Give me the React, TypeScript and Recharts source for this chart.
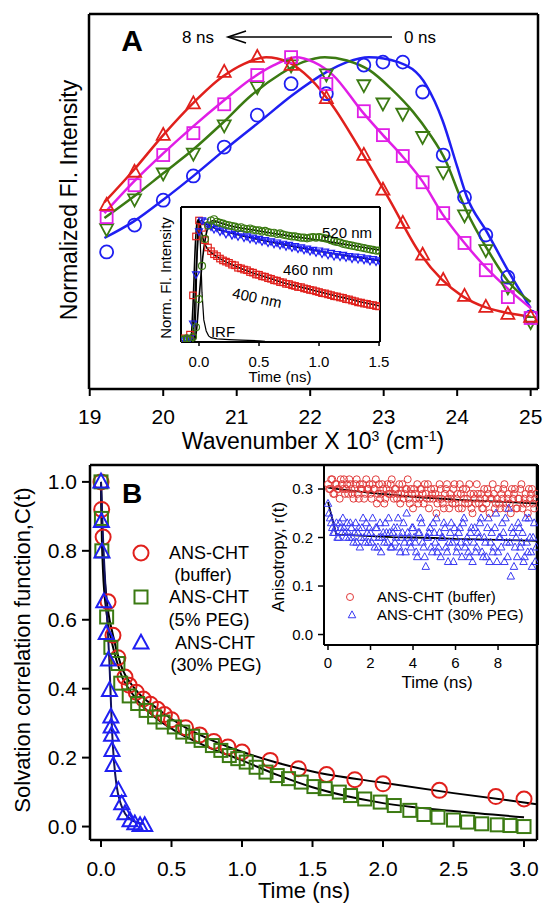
import React from 'react'
import { ComposedChart, Line, Scatter, XAxis, YAxis, ReferenceLine } from 'recharts'

const FONT = '"Liberation Sans", Arial, Helvetica, sans-serif'

// ---- Panel A: time-resolved emission spectra ----
const WAVENUMBERS = [19.23, 19.61, 20.0, 20.41, 20.83, 21.28, 21.74, 22.22, 22.73, 22.99, 23.26, 23.53, 23.81, 24.1, 24.39, 24.69, 25.0]
const SPEC_0NS = [0.413, 0.494, 0.569, 0.642, 0.729, 0.825, 0.92, 0.89, 0.976, 0.985, 0.985, 0.895, 0.705, 0.578, 0.464, 0.337, 0.217]
const SPEC_MID1 = [0.482, 0.572, 0.65, 0.71, 0.795, 0.91, 0.976, 0.949, 0.916, 0.861, 0.83, 0.76, 0.654, 0.524, 0.419, 0.307, 0.202]
const SPEC_MID2 = [0.518, 0.614, 0.705, 0.771, 0.858, 0.946, 1.0, 0.919, 0.837, 0.765, 0.702, 0.623, 0.53, 0.44, 0.358, 0.277, 0.214]
const SPEC_8NS = [0.554, 0.654, 0.765, 0.86, 0.955, 1.0, 0.976, 0.876, 0.705, 0.6, 0.5, 0.404, 0.328, 0.28, 0.247, 0.226, 0.217]

const FIT_0NS = [[19.2, 0.455], [19.6, 0.505], [20.0, 0.57], [20.4, 0.64], [20.86, 0.725], [21.31, 0.805], [21.76, 0.886], [22.22, 0.955], [22.5, 0.985], [22.8, 1.0], [23.2, 0.985], [23.58, 0.915], [23.8, 0.81], [24.0, 0.67], [24.13, 0.58], [24.4, 0.475], [24.71, 0.35], [25.0, 0.244]]
const FIT_MID1 = [[19.2, 0.515], [19.6, 0.58], [20.0, 0.65], [20.4, 0.72], [20.8, 0.8], [21.2, 0.885], [21.6, 0.95], [21.9, 0.985], [22.2, 1.0], [22.5, 0.99], [22.81, 0.96], [23.1, 0.905], [23.4, 0.835], [23.62, 0.77], [23.85, 0.685], [24.03, 0.585], [24.13, 0.535], [24.4, 0.425], [24.71, 0.32], [25.0, 0.262]]
const FIT_MID2 = [[19.2, 0.53], [19.6, 0.625], [20.0, 0.71], [20.4, 0.79], [20.8, 0.865], [21.2, 0.935], [21.5, 0.975], [21.8, 1.0], [22.05, 0.985], [22.31, 0.946], [22.71, 0.835], [22.99, 0.765], [23.26, 0.7], [23.53, 0.625], [23.8, 0.527], [24.1, 0.44], [24.4, 0.364], [24.71, 0.298], [25.0, 0.244]]
const FIT_8NS = [[19.2, 0.563], [19.6, 0.66], [20.0, 0.765], [20.4, 0.86], [20.8, 0.94], [21.1, 0.98], [21.4, 1.0], [21.7, 0.985], [22.0, 0.935], [22.3, 0.855], [22.67, 0.725], [23.08, 0.57], [23.49, 0.41], [23.79, 0.33], [24.07, 0.28], [24.4, 0.245], [24.71, 0.228], [25.0, 0.218]]

const WN_TICKS = [19, 20, 21, 22, 23, 24, 25]

// ---- Inset A: fluorescence decays ----
const DECAY_T = [-0.15, -0.125, -0.1, -0.075, -0.05, -0.025, 0, 0.025, 0.05, 0.075, 0.1, 0.125, 0.15, 0.175, 0.2, 0.225, 0.25, 0.275, 0.3, 0.325, 0.35, 0.375, 0.4, 0.425, 0.45, 0.475, 0.5, 0.525, 0.55, 0.575, 0.6, 0.625, 0.65, 0.675, 0.7, 0.725, 0.75, 0.775, 0.8, 0.825, 0.85, 0.875, 0.9, 0.925, 0.95, 0.975, 1.0, 1.025, 1.05, 1.075, 1.1, 1.125, 1.15, 1.175, 1.2, 1.225, 1.25, 1.275, 1.3, 1.325, 1.35, 1.375, 1.4, 1.425, 1.45, 1.475, 1.5]
const DECAY_400 = [0.02, 0.03, 0.02, 0.06, 0.38, 0.86,
  0.99, 0.93, 0.83, 0.77, 0.74, 0.715, 0.7, 0.68, 0.665, 0.655,
  0.645, 0.63, 0.625, 0.605, 0.6, 0.59, 0.585, 0.57, 0.565, 0.55,
  0.548, 0.535, 0.532, 0.52, 0.515, 0.503, 0.5, 0.488, 0.486, 0.474,
  0.472, 0.462, 0.457, 0.448, 0.447, 0.437, 0.432, 0.424, 0.421, 0.413,
  0.407, 0.398, 0.396, 0.388, 0.382, 0.373, 0.371, 0.363, 0.36, 0.349,
  0.347, 0.338, 0.332, 0.323, 0.321, 0.313, 0.311, 0.303, 0.301, 0.293,
  0.29]
const DECAY_460 = [0.01, 0.02, 0.01, 0.03, 0.15, 0.55,
  0.9, 0.99, 0.98, 0.95, 0.94, 0.92, 0.93, 0.9, 0.91, 0.88,
  0.9, 0.87, 0.88, 0.86, 0.88, 0.85, 0.86, 0.84, 0.85, 0.83,
  0.84, 0.82, 0.83, 0.81, 0.82, 0.8, 0.81, 0.79, 0.8, 0.78,
  0.79, 0.77, 0.78, 0.76, 0.77, 0.75, 0.76, 0.74, 0.75, 0.73,
  0.745, 0.72, 0.735, 0.71, 0.725, 0.7, 0.715, 0.695, 0.71, 0.69,
  0.7, 0.68, 0.695, 0.675, 0.69, 0.67, 0.68, 0.66, 0.675, 0.655,
  0.665]
const DECAY_520 = [0.02, 0.02, 0.03, 0.02, 0.04, 0.12,
  0.35, 0.62, 0.84, 0.95, 0.99, 1.0, 0.98, 0.97, 0.965, 0.955,
  0.95, 0.945, 0.94, 0.93, 0.935, 0.925, 0.92, 0.925, 0.915, 0.91,
  0.91, 0.9, 0.905, 0.895, 0.89, 0.89, 0.88, 0.885, 0.875, 0.87,
  0.865, 0.86, 0.86, 0.855, 0.85, 0.85, 0.845, 0.85, 0.855, 0.85,
  0.855, 0.85, 0.845, 0.84, 0.83, 0.82, 0.815, 0.81, 0.8, 0.795,
  0.79, 0.785, 0.78, 0.775, 0.77, 0.765, 0.76, 0.755, 0.75, 0.745,
  0.745]
const IRF = [[-0.15, 0.005], [-0.05, 0.005], [-0.035, 0.05], [-0.025, 0.3], [-0.015, 0.8], [-0.005, 1.0], [0.005, 0.95], [0.015, 0.7], [0.025, 0.4], [0.04, 0.18], [0.06, 0.09], [0.08, 0.05], [0.1, 0.035], [0.15, 0.025], [0.25, 0.02], [0.35, 0.015], [0.5, 0.01], [0.55, 0.005]]
const DECAY_FIT_400 = [[-0.15, 0.0], [-0.07, 0.01], [-0.05, 0.3], [-0.03, 0.8], [-0.015, 0.98], [0, 1.0], [0.02, 0.9], [0.04, 0.82], [0.07, 0.76], [0.1, 0.73], [0.15, 0.695], [0.2, 0.665], [0.3, 0.62], [0.4, 0.58], [0.5, 0.545], [0.6, 0.515], [0.75, 0.47], [0.9, 0.435], [1.0, 0.41], [1.1, 0.385], [1.25, 0.35], [1.4, 0.315], [1.5, 0.295]]
const DECAY_FIT_460 = [[-0.15, 0.0], [-0.06, 0.01], [-0.04, 0.2], [-0.02, 0.65], [0, 0.92], [0.02, 0.99], [0.04, 0.975], [0.08, 0.95], [0.15, 0.92], [0.3, 0.88], [0.5, 0.835], [0.75, 0.785], [1.0, 0.74], [1.25, 0.7], [1.5, 0.665]]
const DECAY_FIT_520 = [[-0.15, 0.0], [-0.04, 0.01], [-0.02, 0.1], [0.0, 0.35], [0.03, 0.68], [0.06, 0.88], [0.09, 0.97], [0.12, 0.99], [0.15, 0.98], [0.25, 0.95], [0.5, 0.905], [0.75, 0.865], [1.0, 0.83], [1.25, 0.79], [1.5, 0.75]]

// ---- Panel B: solvation correlation function ----
const CT_BUFFER = [[0, 1.0], [0.005, 0.92], [0.015, 0.84], [0.05, 0.652], [0.085, 0.555], [0.12, 0.49], [0.17, 0.434], [0.2, 0.41], [0.25, 0.39], [0.3, 0.37], [0.35, 0.355], [0.4, 0.34], [0.45, 0.325], [0.5, 0.31], [0.6, 0.287], [0.7, 0.266], [0.8, 0.247], [0.9, 0.231], [1.0, 0.216], [1.2, 0.192], [1.4, 0.168], [1.6, 0.151], [1.8, 0.136], [2.0, 0.124], [2.4, 0.105], [2.8, 0.087], [3.0, 0.08]]
const CT_PEG5 = [[0, 1.0], [0.003, 0.894], [0.006, 0.8], [0.04, 0.608], [0.07, 0.52], [0.12, 0.473], [0.14, 0.416], [0.2, 0.379], [0.26, 0.357], [0.32, 0.337], [0.38, 0.318], [0.44, 0.303], [0.52, 0.289], [0.58, 0.274], [0.65, 0.262], [0.71, 0.25], [0.79, 0.235], [0.85, 0.221], [0.91, 0.206], [0.97, 0.197], [1.03, 0.187], [1.1, 0.172], [1.17, 0.158], [1.25, 0.148], [1.33, 0.139], [1.42, 0.129], [1.51, 0.116], [1.59, 0.11], [1.69, 0.1], [1.77, 0.09], [1.87, 0.08], [1.98, 0.071], [2.08, 0.061], [2.19, 0.047], [2.29, 0.035], [2.39, 0.027], [2.5, 0.019], [2.6, 0.013], [2.7, 0.008], [2.81, 0.005], [2.9, 0.003], [3.0, 0.0]]
const CT_PEG30 = [[0, 1.0], [0.003, 0.885], [0.007, 0.797], [0.02, 0.652], [0.037, 0.56], [0.053, 0.483], [0.06, 0.395], [0.07, 0.318], [0.072, 0.289], [0.075, 0.265], [0.078, 0.221], [0.087, 0.177], [0.123, 0.105], [0.147, 0.066], [0.17, 0.037], [0.206, 0.017], [0.24, 0.008], [0.277, 0.003], [0.31, 0.003]]
const CT_FIT_BUFFER = [[0, 1.0], [0.005, 0.9], [0.015, 0.79], [0.04, 0.66], [0.085, 0.555], [0.14, 0.47], [0.24, 0.4], [0.4, 0.342], [0.6, 0.287], [0.8, 0.248], [1.0, 0.217], [1.25, 0.185], [1.5, 0.16], [2.0, 0.127], [2.5, 0.097], [3.09, 0.065]]
const CT_FIT_PEG5 = [[0, 1.0], [0.005, 0.86], [0.014, 0.744], [0.04, 0.618], [0.085, 0.521], [0.14, 0.444], [0.24, 0.376], [0.38, 0.318], [0.52, 0.279], [0.75, 0.232], [1.0, 0.192], [1.25, 0.15], [1.5, 0.114], [2.0, 0.068], [2.5, 0.045], [3.0, 0.027]]
const CT_FIT_PEG30 = [[0, 1.0], [0.014, 0.84], [0.038, 0.647], [0.062, 0.453], [0.078, 0.28], [0.09, 0.2], [0.11, 0.12], [0.14, 0.066], [0.17, 0.038], [0.22, 0.018], [0.3, 0.008]]

// ---- Inset B: anisotropy decays, 0.05 ns channels (even / odd channels) ----
const ANISO_DT = 0.1
const ANISO_BUFFER = [
  0.31, 0.3, 0.32, 0.29, 0.31, 0.3, 0.32, 0.3, 0.29, 0.31,
  0.32, 0.3, 0.28, 0.31, 0.29, 0.31, 0.3, 0.28, 0.32, 0.3,
  0.29, 0.31, 0.3, 0.27, 0.31, 0.29, 0.3, 0.28, 0.31, 0.29,
  0.32, 0.28, 0.3, 0.29, 0.27, 0.31, 0.29, 0.3, 0.28, 0.3,
  0.26, 0.29, 0.31, 0.28, 0.3, 0.27, 0.29, 0.31, 0.28, 0.29,
  0.3, 0.25, 0.28, 0.3, 0.27, 0.29, 0.31, 0.26, 0.28, 0.3,
  0.27, 0.29, 0.31, 0.26, 0.28, 0.3, 0.27, 0.29, 0.25, 0.28,
  0.31, 0.27, 0.29, 0.26, 0.28, 0.3, 0.25, 0.28, 0.29, 0.27,
  0.3, 0.26, 0.28, 0.31, 0.27, 0.29, 0.25, 0.28, 0.3, 0.26,
  0.28, 0.31, 0.27, 0.29, 0.25, 0.28, 0.3, 0.26, 0.29]
const ANISO_BUFFER_ODD = [
  0.3, 0.32, 0.29, 0.31, 0.3, 0.28, 0.31, 0.32, 0.3, 0.29,
  0.31, 0.29, 0.3, 0.32, 0.28, 0.3, 0.31, 0.29, 0.3, 0.31,
  0.28, 0.3, 0.32, 0.29, 0.28, 0.31, 0.27, 0.3, 0.29, 0.31,
  0.29, 0.3, 0.28, 0.31, 0.29, 0.28, 0.3, 0.32, 0.27, 0.29,
  0.3, 0.28, 0.27, 0.3, 0.29, 0.31, 0.28, 0.26, 0.3, 0.28,
  0.29, 0.27, 0.31, 0.28, 0.26, 0.3, 0.28, 0.29, 0.27, 0.31,
  0.28, 0.26, 0.29, 0.3, 0.27, 0.28, 0.31, 0.26, 0.29, 0.27,
  0.29, 0.28, 0.26, 0.3, 0.27, 0.29, 0.28, 0.31, 0.26, 0.28,
  0.27, 0.29, 0.3, 0.26, 0.28, 0.27, 0.3, 0.29, 0.26, 0.28,
  0.3, 0.26, 0.28, 0.27, 0.3, 0.29, 0.27, 0.28]
const ANISO_PEG30 = [
  0.27, 0.24, 0.22, 0.21, 0.23, 0.2, 0.22, 0.24, 0.21, 0.23,
  0.2, 0.22, 0.19, 0.23, 0.21, 0.18, 0.22, 0.2, 0.23, 0.19,
  0.21, 0.24, 0.18, 0.22, 0.2, 0.17, 0.21, 0.23, 0.19, 0.21,
  0.18, 0.22, 0.2, 0.24, 0.17, 0.21, 0.19, 0.25, 0.2, 0.18,
  0.22, 0.19, 0.16, 0.21, 0.23, 0.18, 0.14, 0.2, 0.22, 0.17,
  0.21, 0.24, 0.18, 0.16, 0.2, 0.22, 0.17, 0.19, 0.23, 0.15,
  0.2, 0.18, 0.22, 0.16, 0.24, 0.19, 0.17, 0.21, 0.15, 0.22,
  0.18, 0.2, 0.24, 0.16, 0.19, 0.22, 0.15, 0.21, 0.18, 0.25,
  0.17, 0.2, 0.23, 0.15, 0.19, 0.26, 0.12, 0.21, 0.18, 0.16,
  0.22, 0.19, 0.15, 0.24, 0.17, 0.2, 0.14, 0.23, 0.18]
const ANISO_PEG30_ODD = [
  0.25, 0.23, 0.21, 0.22, 0.2, 0.23, 0.21, 0.22, 0.2, 0.21,
  0.23, 0.2, 0.21, 0.19, 0.22, 0.2, 0.24, 0.19, 0.21, 0.22,
  0.19, 0.2, 0.22, 0.18, 0.23, 0.2, 0.19, 0.21, 0.24, 0.18,
  0.21, 0.19, 0.22, 0.18, 0.2, 0.23, 0.17, 0.21, 0.19, 0.22,
  0.2, 0.17, 0.21, 0.24, 0.19, 0.16, 0.2, 0.21, 0.18, 0.23,
  0.19, 0.17, 0.21, 0.2, 0.23, 0.18, 0.15, 0.21, 0.19, 0.22,
  0.17, 0.21, 0.19, 0.23, 0.18, 0.2, 0.16, 0.22, 0.19, 0.17,
  0.21, 0.23, 0.17, 0.2, 0.16, 0.24, 0.19, 0.17, 0.22, 0.15,
  0.2, 0.18, 0.21, 0.24, 0.16, 0.19, 0.22, 0.14, 0.2, 0.23,
  0.18, 0.21, 0.16, 0.19, 0.24, 0.17, 0.2, 0.15]
const ANISO_FIT_BUFFER = [[0, 0.303], [1, 0.297], [2, 0.292], [3, 0.288], [4, 0.284], [5, 0.281], [6, 0.278], [7, 0.276], [8, 0.274], [9, 0.272], [9.85, 0.27]]
const ANISO_FIT_PEG30 = [[0, 0.273], [0.4, 0.205], [1, 0.205], [2, 0.203], [3, 0.201], [4, 0.2], [5, 0.199], [6, 0.197], [7, 0.196], [8, 0.195], [9, 0.194], [9.85, 0.193]]

const RED = '#e0201c'
const MAGENTA = '#e01ee6'
const GREEN = '#3b7a12'
const BLUE = '#1f1ff2'
const NAVY = '#12125e'
const RED_LIGHT = '#e23a3a'
const BLUE_LIGHT = '#3a3af2'

const zip = (xs: number[], ys: number[]) => xs.map((x, i) => ({ x, y: ys[i] }))
const pairs = (arr: number[][]) => arr.map(([x, y]) => ({ x, y }))
const channels = (even: number[], odd: number[]) => [
  ...even.map((y, i) => ({ x: i * ANISO_DT, y })),
  ...odd.map((y, i) => ({ x: (i + 0.5) * ANISO_DT, y })),
]

type Kind = 'circle' | 'square' | 'triangle' | 'triangleDown'

function Glyph({ kind, cx, cy, size, color, sw }: { kind: Kind; cx: number; cy: number; size: number; color: string; sw: number }) {
  if (cx == null || cy == null) return <g />
  const r = size / 2
  const common = { fill: 'none', stroke: color, strokeWidth: sw }
  if (kind === 'circle') return <circle cx={cx} cy={cy} r={r} {...common} />
  if (kind === 'square') return <rect x={cx - r} y={cy - r} width={size} height={size} {...common} />
  const h = size * 0.92
  if (kind === 'triangle')
    return <polygon points={`${cx},${cy - h * 0.6} ${cx - r},${cy + h * 0.4} ${cx + r},${cy + h * 0.4}`} {...common} />
  return <polygon points={`${cx},${cy + h * 0.6} ${cx - r},${cy - h * 0.4} ${cx + r},${cy - h * 0.4}`} {...common} />
}

const shape = (kind: Kind, size: number, color: string, sw: number) => (p: any) =>
  <Glyph kind={kind} cx={p.cx} cy={p.cy} size={size} color={color} sw={sw} />

const frame = { stroke: '#000', strokeWidth: 2.5 }

function PanelA() {
  return (
    <ComposedChart width={545} height={460} margin={{ top: 14, right: 7, bottom: 0, left: 0 }}>
      <XAxis
        type="number" dataKey="x" domain={[18.99, 25.1]} allowDataOverflow ticks={WN_TICKS} interval={0}
        height={71} tickSize={7} tickMargin={13}
        axisLine={frame} tickLine={{ stroke: '#000', strokeWidth: 2 }}
        tick={{ fill: '#000', fontSize: 21, fontFamily: FONT }}
        label={() => (
          <text x={313} y={449} textAnchor="middle" fontSize={23} fontFamily={FONT} fill="#000">
            Wavenumber X 10<tspan dy={-8} fontSize={14}>3</tspan><tspan dy={8}> (cm</tspan>
            <tspan dy={-8} fontSize={14}>-1</tspan><tspan dy={8}>)</tspan>
          </text>
        )}
      />
      <YAxis
        type="number" dataKey="y" domain={[0, 1.13]} allowDataOverflow width={89}
        tick={false} tickLine={false} axisLine={frame}
        label={() => (
          <text x={69} y={200} transform="rotate(-90 69 200)" textAnchor="middle" dominantBaseline="central"
            fontSize={23} fontFamily={FONT} fill="#000">Normalized Fl. Intensity</text>
        )}
      />
      <ReferenceLine x={25.1} {...frame} />
      <ReferenceLine y={1.13} {...frame} />
      <Scatter data={zip(WAVENUMBERS, SPEC_0NS)} dataKey="y" shape={shape('circle', 13, BLUE, 1.8)} isAnimationActive={false} />
      <Scatter data={zip(WAVENUMBERS, SPEC_MID1)} dataKey="y" shape={shape('triangleDown', 13, GREEN, 1.8)} isAnimationActive={false} />
      <Scatter data={zip(WAVENUMBERS, SPEC_MID2)} dataKey="y" shape={shape('square', 12, MAGENTA, 1.8)} isAnimationActive={false} />
      <Scatter data={zip(WAVENUMBERS, SPEC_8NS)} dataKey="y" shape={shape('triangle', 13, RED, 1.8)} isAnimationActive={false} />
      <Line data={pairs(FIT_0NS)} dataKey="y" type="monotone" stroke={BLUE} strokeWidth={2.5} dot={false} activeDot={false} isAnimationActive={false} />
      <Line data={pairs(FIT_MID1)} dataKey="y" type="monotone" stroke={GREEN} strokeWidth={2.5} dot={false} activeDot={false} isAnimationActive={false} />
      <Line data={pairs(FIT_MID2)} dataKey="y" type="monotone" stroke={MAGENTA} strokeWidth={2.5} dot={false} activeDot={false} isAnimationActive={false} />
      <Line data={pairs(FIT_8NS)} dataKey="y" type="monotone" stroke={RED} strokeWidth={2.5} dot={false} activeDot={false} isAnimationActive={false} />
    </ComposedChart>
  )
}

function InsetA() {
  const thin = { stroke: '#000', strokeWidth: 2 }
  return (
    <ComposedChart width={240} height={195} margin={{ top: 12, right: 10, bottom: 0, left: 0 }}>
      <XAxis
        type="number" dataKey="x" domain={[-0.15, 1.508]} allowDataOverflow ticks={[0, 0.5, 1, 1.5]} interval={0}
        tickFormatter={(v: number) => v.toFixed(1)}
        height={48} tickSize={4} tickMargin={10} axisLine={thin} tickLine={{ stroke: '#000', strokeWidth: 1.5 }}
        tick={{ fill: '#000', fontSize: 15, fontFamily: FONT }}
        label={() => (
          <text x={130} y={187} textAnchor="middle" fontSize={15} fontFamily={FONT} fill="#000">Time (ns)</text>
        )}
      />
      <YAxis
        type="number" dataKey="y" domain={[0, 1.1]} allowDataOverflow width={31}
        tick={false} tickLine={false} axisLine={thin}
        label={() => (
          <text x={15} y={83} transform="rotate(-90 15 83)" textAnchor="middle" dominantBaseline="central"
            fontSize={15} fontFamily={FONT} fill="#000">Norm. Fl. Intensity</text>
        )}
      />
      <ReferenceLine x={1.508} {...thin} />
      <ReferenceLine y={1.1} {...thin} />
      <Scatter data={zip(DECAY_T, DECAY_400)} dataKey="y" shape={shape('square', 6.5, RED, 1.2)} isAnimationActive={false} />
      <Scatter data={zip(DECAY_T, DECAY_460)} dataKey="y" shape={shape('triangleDown', 7, BLUE, 1.2)} isAnimationActive={false} />
      <Scatter data={zip(DECAY_T, DECAY_520)} dataKey="y" shape={shape('circle', 7, GREEN, 1.2)} isAnimationActive={false} />
      <Line data={pairs(DECAY_FIT_400)} dataKey="y" type="monotone" stroke="#000" strokeWidth={1.6} dot={false} activeDot={false} isAnimationActive={false} />
      <Line data={pairs(DECAY_FIT_460)} dataKey="y" type="monotone" stroke="#000" strokeWidth={1.6} dot={false} activeDot={false} isAnimationActive={false} />
      <Line data={pairs(DECAY_FIT_520)} dataKey="y" type="monotone" stroke="#000" strokeWidth={1.6} dot={false} activeDot={false} isAnimationActive={false} />
      <Line data={pairs(IRF)} dataKey="y" type="linear" stroke="#000" strokeWidth={1.2} dot={false} activeDot={false} isAnimationActive={false} />
    </ComposedChart>
  )
}

function PanelB() {
  return (
    <ComposedChart width={545} height={455} margin={{ top: 15, right: 8, bottom: 0, left: 0 }}>
      <XAxis
        type="number" dataKey="x" domain={[-0.078, 3.092]} allowDataOverflow ticks={[0, 0.5, 1, 1.5, 2, 2.5, 3]} interval={0}
        tickFormatter={(v: number) => v.toFixed(1)}
        height={65} tickSize={7} tickMargin={14} axisLine={frame} tickLine={{ stroke: '#000', strokeWidth: 2 }}
        tick={{ fill: '#000', fontSize: 21, fontFamily: FONT }}
        label={() => (
          <text x={304} y={448} textAnchor="middle" fontSize={22} fontFamily={FONT} fill="#000">Time (ns)</text>
        )}
      />
      <YAxis
        type="number" dataKey="y" domain={[-0.039, 1.049]} allowDataOverflow width={90}
        ticks={[0, 0.2, 0.4, 0.6, 0.8, 1.0]} interval={0} tickFormatter={(v: number) => v.toFixed(1)}
        tickSize={8} tickMargin={5} axisLine={frame} tickLine={{ stroke: '#000', strokeWidth: 2 }}
        tick={{ fill: '#000', fontSize: 21, fontFamily: FONT }}
        label={() => (
          <text x={22} y={200} transform="rotate(-90 22 200)" textAnchor="middle" dominantBaseline="central"
            fontSize={22} fontFamily={FONT} fill="#000">Solvation correlation function,C(t)</text>
        )}
      />
      <ReferenceLine x={3.092} {...frame} />
      <ReferenceLine y={1.049} {...frame} />
      <Scatter data={pairs(CT_BUFFER)} dataKey="y" shape={shape('circle', 15, RED, 2)} isAnimationActive={false} />
      <Scatter data={pairs(CT_PEG5)} dataKey="y" shape={shape('square', 13, GREEN, 2)} isAnimationActive={false} />
      <Line data={pairs(CT_FIT_BUFFER)} dataKey="y" type="monotone" stroke="#000" strokeWidth={2} dot={false} activeDot={false} isAnimationActive={false} />
      <Line data={pairs(CT_FIT_PEG5)} dataKey="y" type="monotone" stroke="#000" strokeWidth={2} dot={false} activeDot={false} isAnimationActive={false} />
      <Scatter data={pairs(CT_PEG30)} dataKey="y" shape={shape('triangle', 15, BLUE, 2)} isAnimationActive={false} />
      <Line data={pairs(CT_FIT_PEG30)} dataKey="y" type="monotone" stroke={NAVY} strokeWidth={2} dot={false} activeDot={false} isAnimationActive={false} />
    </ComposedChart>
  )
}

function InsetB() {
  const thin = { stroke: '#000', strokeWidth: 2 }
  return (
    <ComposedChart width={275} height={240} margin={{ top: 10, right: 7, bottom: 0, left: 0 }}>
      <XAxis
        type="number" dataKey="x" domain={[-0.188, 9.88]} allowDataOverflow ticks={[0, 2, 4, 6, 8]} interval={0}
        height={50} tickSize={5} tickMargin={7} axisLine={thin} tickLine={{ stroke: '#000', strokeWidth: 1.5 }}
        tick={{ fill: '#000', fontSize: 15, fontFamily: FONT }}
        label={() => (
          <text x={167} y={233} textAnchor="middle" fontSize={17} fontFamily={FONT} fill="#000">Time (ns)</text>
        )}
      />
      <YAxis
        type="number" dataKey="y" domain={[-0.0216, 0.3495]} allowDataOverflow width={54}
        ticks={[0, 0.1, 0.2, 0.3]} interval={0} tickFormatter={(v: number) => v.toFixed(1)}
        tickSize={6} tickMargin={5} axisLine={thin} tickLine={{ stroke: '#000', strokeWidth: 1.5 }}
        tick={{ fill: '#000', fontSize: 15, fontFamily: FONT }}
        label={() => (
          <text x={8} y={102} transform="rotate(-90 8 102)" textAnchor="middle" dominantBaseline="central"
            fontSize={17} fontFamily={FONT} fill="#000">Anisotropy, r(t)</text>
        )}
      />
      <ReferenceLine x={9.88} {...thin} />
      <ReferenceLine y={0.3495} {...thin} />
      <Scatter data={channels(ANISO_BUFFER, ANISO_BUFFER_ODD)} dataKey="y" shape={shape('circle', 7, RED_LIGHT, 1)} isAnimationActive={false} />
      <Scatter data={channels(ANISO_PEG30, ANISO_PEG30_ODD)} dataKey="y" shape={shape('triangle', 7.5, BLUE_LIGHT, 1)} isAnimationActive={false} />
      <Line data={pairs(ANISO_FIT_BUFFER)} dataKey="y" type="monotone" stroke="#000" strokeWidth={1.8} dot={false} activeDot={false} isAnimationActive={false} />
      <Line data={pairs(ANISO_FIT_PEG30)} dataKey="y" type="linear" stroke="#000" strokeWidth={1.8} dot={false} activeDot={false} isAnimationActive={false} />
    </ComposedChart>
  )
}

function Annotations() {
  const t = { fontFamily: FONT, fill: '#000' }
  return (
    <svg width={545} height={905} style={{ position: 'absolute', left: 0, top: 0, pointerEvents: 'none' }}>
      <text x={132} y={51} textAnchor="middle" fontSize={30} fontWeight="bold" {...t}>A</text>
      <text x={198} y={43} textAnchor="middle" fontSize={17} {...t}>8 ns</text>
      <line x1={392} y1={37} x2={228} y2={37} stroke="#000" strokeWidth={1.6} />
      <polyline points="246,31 228,37 246,43" fill="none" stroke="#000" strokeWidth={1.6} />
      <text x={420} y={43} textAnchor="middle" fontSize={17} {...t}>0 ns</text>

      <text x={347} y={238} textAnchor="middle" fontSize={15} {...t}>520 nm</text>
      <text x={308} y={275} textAnchor="middle" fontSize={15} {...t}>460 nm</text>
      <text x={257} y={303} textAnchor="middle" fontSize={15} transform="rotate(12 257 298)" {...t}>400 nm</text>
      <text x={223} y={337} textAnchor="middle" fontSize={15} {...t}>IRF</text>

      <text x={132} y={503} textAnchor="middle" fontSize={28} fontWeight="bold" {...t}>B</text>
      <Glyph kind="circle" cx={141} cy={553} size={15} color={RED} sw={2} />
      <Glyph kind="square" cx={141} cy={597} size={13} color={GREEN} sw={2} />
      <Glyph kind="triangle" cx={141} cy={643} size={15} color={BLUE} sw={2} />
      <text x={209} y={559} textAnchor="middle" fontSize={18} {...t}>ANS-CHT</text>
      <text x={203} y={581} textAnchor="middle" fontSize={18} {...t}>(buffer)</text>
      <text x={209} y={603} textAnchor="middle" fontSize={18} {...t}>ANS-CHT</text>
      <text x={209} y={626} textAnchor="middle" fontSize={18} {...t}>(5% PEG)</text>
      <text x={215} y={649} textAnchor="middle" fontSize={18} {...t}>ANS-CHT</text>
      <text x={216} y={671} textAnchor="middle" fontSize={18} {...t}>(30% PEG)</text>

      <Glyph kind="circle" cx={350} cy={597} size={7} color={RED_LIGHT} sw={1} />
      <Glyph kind="triangle" cx={352} cy={615} size={7.5} color={BLUE_LIGHT} sw={1} />
      <text x={377} y={602} fontSize={15} {...t}>ANS-CHT (buffer)</text>
      <text x={377} y={620} fontSize={15} {...t}>ANS-CHT (30% PEG)</text>
    </svg>
  )
}

export default function App() {
  return (
    <div style={{ position: 'absolute', left: 0, top: 0, width: 545, height: 905, background: '#fff', fontFamily: FONT }}>
      <div style={{ position: 'absolute', left: 0, top: 0 }}><PanelA /></div>
      <div style={{ position: 'absolute', left: 150, top: 195 }}><InsetA /></div>
      <div style={{ position: 'absolute', left: 0, top: 450 }}><PanelB /></div>
      <div style={{ position: 'absolute', left: 270, top: 455 }}><InsetB /></div>
      <Annotations />
    </div>
  )
}
